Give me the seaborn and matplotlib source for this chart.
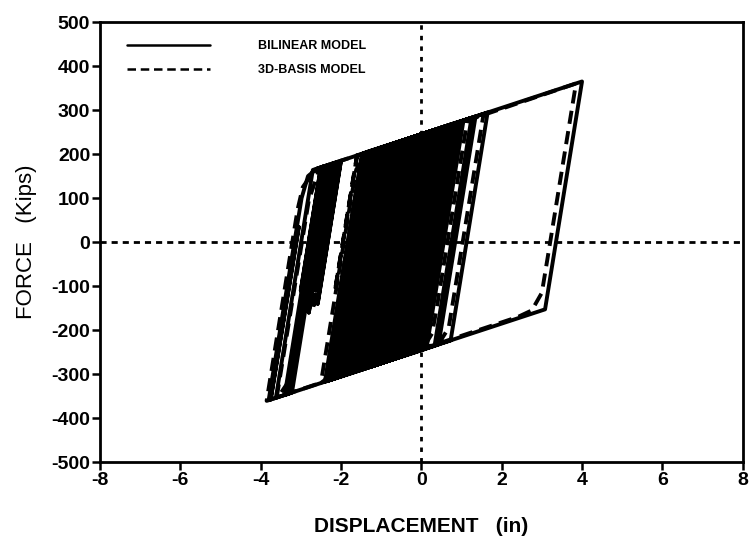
import matplotlib
matplotlib.use("Agg")
import matplotlib.pyplot as plt
from matplotlib import font_manager
import pandas as pd
import seaborn as sns

# Bilinear isolator model: force-displacement path (reversal and knee points)
bilinear_disp = [
    0.0, 0.46, 0.5, -0.42, -0.8, 0.12, 1.0, 0.08, -0.5, 0.42, 4.0,
    3.08, -3.75, -3.05, -3.75, -3.8,
    -2.98, -2.82, -2.6, -2.5,
    -3.0, -2.5, -2.4,
    -3.32, -3.62, -2.70, -2.3, -3.22, -3.3,
    -2.9, -3.3, -3.4, -2.48, -2.2,
    -2.8, -2.2, -2.1, -2.62, -2.1, -2.0,
    -2.58, -2.0, -1.45, -2.01, -1.45, -1.2,
    -2.12, -2.4, -1.48, -0.9, -1.82, -2.0, -1.08, -0.6, -1.52, -1.8,
    -0.88, -0.2, -1.12, -1.6, -0.68, 0.2, -0.72, -1.3, -0.38, 0.6,
    -0.32, -1.1, -0.18, 1.65, 0.73, -0.4, 0.52, 1.25, 0.33, -1.0,
    -0.08, 0.9, -0.02, -1.5, -0.58, -0.4, -1.32, -1.9, -0.98, -0.8,
    -1.72, -2.2, -1.28, -1.0, -1.92, -2.3, -1.38, -0.1, -1.02, -1.4,
    -0.48, 0.4, -0.52, -0.7, 0.22, 1.05, 0.13, -0.2, 0.72, 0.8,
    -0.12, -0.3, 0.62, 0.95, 0.03, -0.45, 0.47, 0.75, -0.17, -0.35,
    0.57, 1.35, 0.43, -0.9, 0.02, 0.1, -0.82, -2.1, -1.18, -0.5,
    -1.42, -1.7, -0.78, 0.35, -0.57, -0.8, 0.12, 0.5, -0.42, -2.35,
    -1.43, -1.1, -2.02, -2.25, -1.33, 0.05, -0.87, -1.15, -0.23, 1.0,
    0.08, -0.25, 0.67, 0.85, -0.07, -0.4, 0.52, 0.65, -0.27, -0.6,
    0.32, 0.7, -0.22, -1.25, -0.33, -0.05, -0.97, -1.05, -0.13, 0.25,
    -0.2,
]
bilinear_force = [
    0.0, 259.0, 260.0, -257.6, -269.0, 248.6, 275.0, -242.6, -260.0, 257.6, 365.0,
    -152.6, -357.5, 34.5, -357.5, -359.0,
    100.0, 150.0, 167.0, 170.0,
    -110.0, 170.0, 173.0,
    -344.6, -353.6, 164.0, 176.0, -341.6, -344.0,
    -120.0, -344.0, -347.0, 170.6, 179.0,
    -160.0, 179.0, 182.0, -110.0, 182.0, 185.0,
    -140.0, 185.0, 201.5, -110.0, 201.5, 209.0,
    -308.6, -317.0, 200.6, 218.0, -299.6, -305.0, 212.6, 227.0, -290.6, -299.0,
    218.6, 239.0, -278.6, -293.0, 224.6, 251.0, -266.6, -284.0, 233.6, 263.0,
    -254.6, -278.0, 239.6, 294.5, -223.1, -257.0, 260.6, 282.5, -235.1, -275.0,
    242.6, 272.0, -245.6, -290.0, 227.6, 233.0, -284.6, -302.0, 215.6, 221.0,
    -296.6, -311.0, 206.6, 215.0, -302.6, -314.0, 203.6, 242.0, -275.6, -287.0,
    230.6, 257.0, -260.6, -266.0, 251.6, 276.5, -241.1, -251.0, 266.6, 269.0,
    -248.6, -254.0, 263.6, 273.5, -244.1, -258.5, 259.1, 267.5, -250.1, -255.5,
    262.1, 285.5, -232.1, -272.0, 245.6, 248.0, -269.6, -308.0, 209.6, 230.0,
    -287.6, -296.0, 221.6, 255.5, -262.1, -269.0, 248.6, 260.0, -257.6, -315.5,
    202.1, 212.0, -305.6, -312.5, 205.1, 246.5, -271.1, -279.5, 238.1, 275.0,
    -242.6, -252.5, 265.1, 270.5, -247.1, -257.0, 260.6, 264.5, -253.1, -263.0,
    254.6, 266.0, -251.6, -282.5, 235.1, 243.5, -274.1, -276.5, 241.1, 252.5,
    0.5,
]

# 3D-BASIS model: smooth hysteresis path
basis_disp = [
    0.0, 0.36, 0.6, 0.9,
    0.09, -0.25, -0.6,
    0.21, 0.55, 3.85,
    3.15, 3.0, 2.75, 2.4, -3.85,
    -3.08, -2.95, -2.7, -2.45,
    -3.2, -3.33, -3.5, -3.6,
    -2.98, -2.8, -2.55, -2.3,
    -2.85, -2.3, -2.1,
    -2.7, -2.1, -1.6,
    -2.15, -1.6, -1.3,
    -2.05, -2.17, -2.4, -2.5,
    -1.75, -1.62, -1.35, -0.7,
    -1.45, -1.57, -1.8, -2.05,
    -1.3, -1.17, -0.9, 0.0,
    -0.75, -0.87, -1.1, -1.5,
    -0.75, -0.62, -0.35, 1.55,
    0.8, 0.68, 0.45, -0.6,
    0.15, 0.28, 0.55, 1.15,
    0.4, 0.27, 0.05, -1.2,
    -0.45, -0.32, -0.05, 0.7,
    -0.05, -0.18, -0.4, -2.0,
    -1.25, -1.12, -0.85, -0.3,
    -1.05, -1.17, -1.4, -2.2,
    -1.45, -1.32, -1.05, 0.3,
    -0.45, -0.57, -0.8, -1.0,
    -0.25, -0.12, 0.15, 0.6,
    0.1,
]
basis_force = [
    0.0, 200.0, 258.0, 272.0,
    -185.0, -248.0, -263.0,
    195.0, 258.0, 360.5,
    -32.0, -115.0, -155.0, -170.0, -360.5,
    74.0, 125.0, 158.0, 171.5,
    -248.0, -320.0, -343.0, -353.0,
    -5.0, 95.0, 163.0, 176.0,
    -132.0, 176.0, 182.0,
    -154.0, 182.0, 197.0,
    -111.0, 197.0, 206.0,
    -214.0, -280.0, -313.0, -320.0,
    98.0, 165.0, 201.0, 224.0,
    -196.0, -262.0, -295.0, -306.5,
    113.0, 180.0, 215.0, 245.0,
    -175.0, -242.0, -274.0, -290.0,
    130.0, 197.0, 231.0, 291.5,
    -128.5, -195.0, -228.0, -263.0,
    157.0, 222.0, 258.0, 279.5,
    -140.5, -207.0, -240.0, -281.0,
    139.0, 204.0, 240.0, 266.0,
    -154.0, -220.0, -252.0, -305.0,
    115.0, 180.0, 216.0, 236.0,
    -184.0, -250.0, -283.0, -311.0,
    109.0, 175.0, 210.0, 254.0,
    -166.0, -232.0, -264.0, -275.0,
    145.0, 210.0, 245.0, 263.0,
    -17.0,
]

series_labels = ["BILINEAR MODEL", "3D-BASIS MODEL"]
x_ticks = [-8, -6, -4, -2, 0, 2, 4, 6, 8]
y_ticks = [500, 400, 300, 200, 100, 0, -100, -200, -300, -400, -500]

sns.set_theme(style="white")
installed = {f.name for f in font_manager.fontManager.ttflist}
families = [f for f in ["Liberation Sans Narrow", "Liberation Sans", "DejaVu Sans"] if f in installed]
plt.rcParams["font.family"] = families
for key in ["text.color", "axes.labelcolor", "xtick.color", "ytick.color"]:
    plt.rcParams[key] = "black"

df = pd.concat([
    pd.DataFrame({"step": range(len(bilinear_disp)), "disp": bilinear_disp,
                  "force": bilinear_force, "model": series_labels[0]}),
    pd.DataFrame({"step": range(len(basis_disp)), "disp": basis_disp,
                  "force": basis_force, "model": series_labels[1]}),
], ignore_index=True)

fig = plt.figure(figsize=(7.51, 5.51), dpi=100)
ax = fig.add_axes([0.133, 0.161, 0.856, 0.799])

# reference axes through the origin
ax.axhline(0, color="black", lw=2.0, ls=(0, (2.2, 1.8)), zorder=1)
ax.axvline(0, color="black", lw=2.0, ls=(0, (1.6, 2.2)), zorder=1)

sns.lineplot(data=df, x="disp", y="force", hue="model", style="model",
             sort=False, estimator=None,
             palette=["black", "black"], dashes=[(None, None), (3.4, 1.9)],
             hue_order=series_labels, style_order=series_labels,
             linewidth=2.8, ax=ax, zorder=3)

ax.set_xlim(-8, 8)
ax.set_ylim(-500, 500)
ax.set_xticks(x_ticks)
ax.set_yticks(y_ticks)
ax.set_xticklabels([str(t) for t in x_ticks], fontsize=14, fontweight="bold")
ax.set_yticklabels([str(t) for t in y_ticks], fontsize=14, fontweight="bold")
ax.tick_params(axis="both", which="both", direction="out", length=6, width=1.8,
               color="black", bottom=True, left=True, top=False, right=False, pad=1)
for s in ax.spines.values():
    s.set_color("black")
    s.set_linewidth(2.0)

ax.set_xlabel("DISPLACEMENT   (in)", fontsize=15, fontweight="bold", labelpad=20)
ax.set_ylabel("FORCE   (Kips)", fontsize=16, labelpad=10)

leg = ax.legend(loc="upper left", bbox_to_anchor=(0.025, 0.985), frameon=False,
                handlelength=6.6, handletextpad=3.9, labelspacing=1.0,
                prop={"size": 9, "weight": "bold"})
for h in leg.get_lines():
    h.set_linewidth(1.8)

fig.savefig("out.png", dpi=100, facecolor="white")
